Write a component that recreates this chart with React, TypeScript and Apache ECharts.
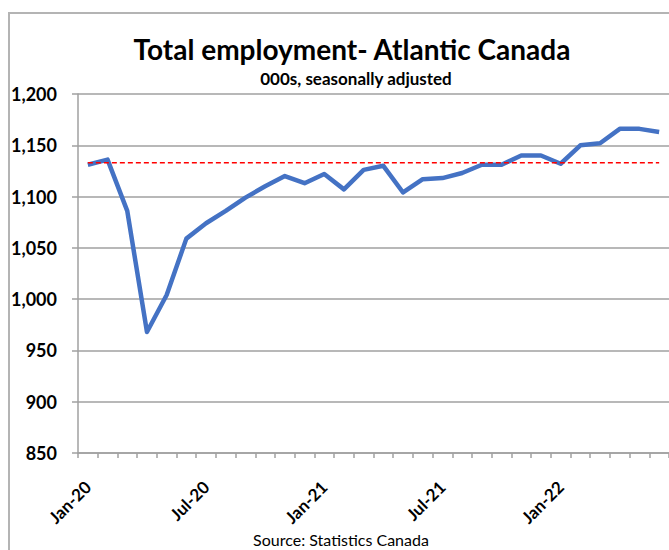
import React, { useEffect, useRef } from "react";
import * as echarts from "echarts";

const months: string[] = [
  "Jan-20", "Feb-20", "Mar-20", "Apr-20", "May-20", "Jun-20",
  "Jul-20", "Aug-20", "Sep-20", "Oct-20", "Nov-20", "Dec-20",
  "Jan-21", "Feb-21", "Mar-21", "Apr-21", "May-21", "Jun-21",
  "Jul-21", "Aug-21", "Sep-21", "Oct-21", "Nov-21", "Dec-21",
  "Jan-22", "Feb-22", "Mar-22", "Apr-22", "May-22", "Jun-22",
];

const employment: number[] = [
  1131, 1136, 1086, 968, 1004, 1059,
  1074, 1086, 1099, 1110, 1120, 1113,
  1122, 1107, 1126, 1130, 1104, 1117,
  1118, 1123, 1131, 1131, 1140, 1140,
  1132, 1150, 1152, 1166, 1166, 1163,
];

const preCovidLevel: number[] = [
  1133, 1133, 1133, 1133, 1133, 1133,
  1133, 1133, 1133, 1133, 1133, 1133,
  1133, 1133, 1133, 1133, 1133, 1133,
  1133, 1133, 1133, 1133, 1133, 1133,
  1133, 1133, 1133, 1133, 1133, 1133,
];

const yTicks = { min: 850, max: 1200, interval: 50 };

const FONT = "Lato, 'Open Sans', sans-serif";

export default function App() {
  const ref = useRef<HTMLDivElement>(null);
  useEffect(() => {
    document.body.style.margin = "0";
    if (!ref.current) return;
    const chart = echarts.init(ref.current, null, { renderer: "svg" });
    chart.setOption({
      animation: false,
      backgroundColor: "#ffffff",
      graphic: [
        {
          type: "rect",
          shape: { x: 9, y: 13, width: 720, height: 600 },
          style: { fill: "none", stroke: "#b4b4b4", lineWidth: 2 },
          silent: true,
          z: -1,
        },
        {
          type: "text",
          x: 352,
          y: 49,
          style: {
            text: "Total employment- Atlantic Canada",
            font: `bold 28px ${FONT}`,
            fill: "#000000",
            align: "center",
            verticalAlign: "middle",
          },
        },
        {
          type: "text",
          x: 356,
          y: 78,
          style: {
            text: "000s, seasonally adjusted",
            font: `bold 17px ${FONT}`,
            fill: "#000000",
            align: "center",
            verticalAlign: "middle",
          },
        },
        {
          type: "text",
          x: 341,
          y: 539,
          style: {
            text: "Source: Statistics Canada",
            font: `16px ${FONT}`,
            fill: "#000000",
            align: "center",
            verticalAlign: "middle",
          },
        },
      ],
      grid: { left: 78, right: 0, top: 94, height: 359, containLabel: false },
      xAxis: {
        type: "category",
        data: months,
        boundaryGap: true,
        axisLine: { show: true, lineStyle: { color: "#a0a0a0", width: 1.5 } },
        axisTick: { show: true, interval: 0, length: 5, lineStyle: { color: "#a0a0a0", width: 1.5 } },
        axisLabel: {
          interval: 5,
          rotate: 45,
          margin: 31,
          fontFamily: FONT,
          fontWeight: "bold",
          fontSize: 17,
          color: "#000000",
        },
        splitLine: { show: false },
      },
      yAxis: {
        type: "value",
        min: yTicks.min,
        max: yTicks.max,
        interval: yTicks.interval,
        axisLine: { show: true, lineStyle: { color: "#a0a0a0", width: 1.5 } },
        axisTick: { show: true, length: 6, lineStyle: { color: "#a0a0a0", width: 1.5 } },
        axisLabel: {
          margin: 21,
          fontFamily: FONT,
          fontWeight: "bold",
          fontSize: 18,
          color: "#000000",
          formatter: (v: number) => v.toLocaleString("en-US"),
        },
        splitLine: { show: true, lineStyle: { color: "#a0a0a0", width: 1.5 } },
      },
      series: [
        {
          name: "Employment",
          type: "line",
          data: employment,
          showSymbol: false,
          symbol: "none",
          lineStyle: { color: "#4472c4", width: 4.5, join: "round" },
          z: 3,
        },
        {
          name: "Pre-pandemic level",
          type: "line",
          data: preCovidLevel,
          showSymbol: false,
          symbol: "none",
          lineStyle: { color: "#ff0000", width: 1.5, type: [5, 3] },
          z: 4,
        },
      ],
    });
    return () => chart.dispose();
  }, []);
  return <div ref={ref} style={{ width: 669, height: 550 }} />;
}
